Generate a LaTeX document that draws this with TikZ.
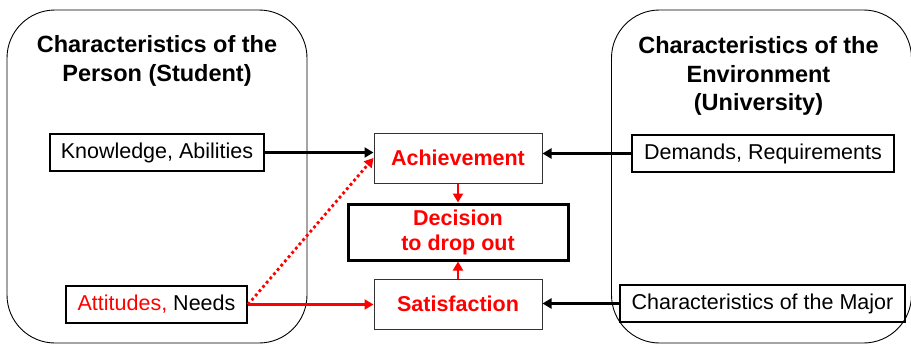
\documentclass[tikz,border=0pt]{standalone}
\usepackage{fontspec}
\setmainfont{Liberation Sans}
\usetikzlibrary{arrows.meta}

\begin{document}
\begin{tikzpicture}[
        x=1pt, y=-1pt,
        every node/.style={align=center, inner sep=0pt, font=\fontsize{21.5}{25}\selectfont},
        marco/.style={draw, line width=0.9pt, rounded corners=48pt, minimum width=300pt, minimum height=333pt},
        titulo/.style={font=\bfseries\fontsize{23.5}{28.5}\selectfont},
        caja/.style={draw, line width=2pt, minimum height=37pt},
        factor/.style={draw=black!80, line width=1pt, minimum width=168pt, minimum height=50pt, text=red, font=\bfseries\fontsize{21.5}{25}\selectfont},
        flecha/.style={-{Triangle[length=9pt,width=10pt]}, line width=2.2pt},
        rojo/.style={flecha, red}
    ]
    \useasboundingbox (0,0) rectangle (911,345);
    \node[marco] (P) at (157,176.5) {};
    \node[marco] (E) at (761.5,176.5) {};
    \node[titulo] (TP) at (157,61) {Characteristics of the\\Person (Student)};
    \node[titulo] (TE) at (758.5,76) {Characteristics of the\\Environment\\(University)};

    \node[caja, minimum width=214pt] (K) at (157,152.5) {Knowledge, Abilities};
    \node[caja, minimum width=181pt] (At) at (156.5,304.5) {{\color{red}Attitudes,} Needs};
    \node[caja, minimum width=262pt] (D) at (763,153.5) {Demands, Requirements};
    \node[caja, minimum width=285pt] (M) at (762.5,303.5) {Characteristics of the Major};

    \node[factor] (A) at (458,158) {Achievement};
    \node[factor] (S) at (458,304) {Satisfaction};
    \node[draw, line width=3pt, minimum width=220pt, minimum height=56pt, text=red,
          font=\bfseries\fontsize{21.5}{25}\selectfont] (Dec) at (458,232) {Decision\\to drop out};

    \draw[flecha] (K.east) -- (K.east -| A.west);
    \draw[flecha] (D.west) -- (D.west -| A.east);
    \draw[flecha] (M.west) -- (M.west -| S.east);
    \draw[rojo] (At.east) -- (At.east -| S.west);
    \draw[rojo, line width=2.8pt, dash pattern=on 2.8pt off 2.8pt] (At.east) -- (A.west);
    \draw[rojo] (A.south) -- (Dec.north);
    \draw[rojo] (S.north) -- (Dec.south);
\end{tikzpicture}
\end{document}
